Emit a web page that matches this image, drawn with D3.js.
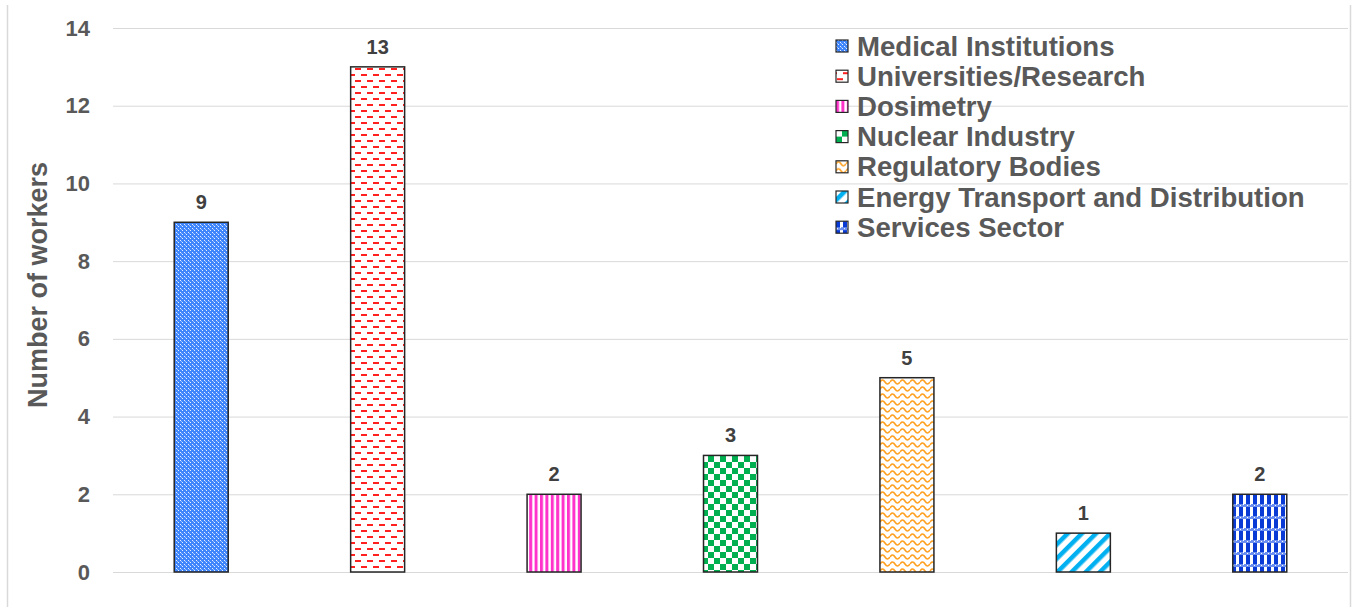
<!DOCTYPE html>
<html>
<head>
<meta charset="utf-8">
<script src="https://cdn.jsdelivr.net/npm/d3@7"></script>
<style>
  body { margin: 0; background: #fff; }
  svg { display: block; font-family: Arial, "Liberation Sans", sans-serif; }
</style>
</head>
<body>
<div id="chart"></div>
<script>
// categories and values
var categories = ["Medical Institutions", "Universities/Research", "Dosimetry", "Nuclear Industry",
                  "Regulatory Bodies", "Energy Transport and Distribution", "Services Sector"];
var workers = [9, 13, 2, 3, 5, 1, 2];
var yTicks = [0, 2, 4, 6, 8, 10, 12, 14];
var patternIds = ["pMed", "pUni", "pDos", "pNuc", "pReg", "pEne", "pSer"];

var width = 1356, height = 607,
    margin = {top: 28, right: 8, bottom: 35, left: 113};

var svg = d3.select("#chart").append("svg")
    .attr("width", width)
    .attr("height", height);

// ---- fill patterns ----
var defs = svg.append("defs");
function pat(id, w, h) {
  return defs.append("pattern").attr("id", id)
    .attr("patternUnits", "userSpaceOnUse")
    .attr("width", w).attr("height", h);
}
// medical: blue with light dots
var p = pat("pMed", 4, 4);
p.append("rect").attr("width", 4).attr("height", 4).attr("fill", "#3f85fb");
p.append("rect").attr("x", 0).attr("y", 0).attr("width", 1).attr("height", 1).attr("fill", "#e8f0ff");
p.append("rect").attr("x", 2).attr("y", 2).attr("width", 1).attr("height", 1).attr("fill", "#e8f0ff");
p.append("rect").attr("x", 1).attr("y", 1).attr("width", 1).attr("height", 1).attr("fill", "#9cc0ff");
// universities: red dashes
p = pat("pUni", 12, 12);
p.append("rect").attr("width", 12).attr("height", 12).attr("fill", "#fff");
p.append("rect").attr("x", 1).attr("y", 2).attr("width", 6).attr("height", 2).attr("fill", "#ff2020");
p.append("rect").attr("x", 7).attr("y", 8).attr("width", 6).attr("height", 2).attr("fill", "#ff2020");
p.append("rect").attr("x", -5).attr("y", 8).attr("width", 6).attr("height", 2).attr("fill", "#ff2020");
// dosimetry: vertical magenta stripes
p = pat("pDos", 5.4, 10);
p.append("rect").attr("width", 5.4).attr("height", 10).attr("fill", "#fff");
p.append("rect").attr("width", 3).attr("height", 10).attr("fill", "#ff33cc");
// nuclear: green checkerboard
p = pat("pNuc", 12, 12);
p.append("rect").attr("width", 12).attr("height", 12).attr("fill", "#fff");
p.append("rect").attr("width", 6).attr("height", 6).attr("fill", "#00b050");
p.append("rect").attr("x", 6).attr("y", 6).attr("width", 6).attr("height", 6).attr("fill", "#00b050");
// regulatory: orange waves
p = pat("pReg", 10, 7);
p.append("rect").attr("width", 10).attr("height", 7).attr("fill", "#fff");
p.append("path").attr("d", "M0,4 Q2.5,0 5,4 T10,4").attr("fill", "none")
  .attr("stroke", "#ffa020").attr("stroke-width", 1.6);
// energy: light blue diagonal stripes
p = pat("pEne", 10, 10).attr("patternTransform", "rotate(-45)");
p.append("rect").attr("width", 10).attr("height", 10).attr("fill", "#fff");
p.append("rect").attr("width", 10).attr("height", 4.5).attr("fill", "#00b0f0");
// services: blue plaid
p = pat("pSer", 7, 12);
p.append("rect").attr("width", 7).attr("height", 12).attr("fill", "#fff");
p.append("rect").attr("x", 0).attr("y", 0).attr("width", 4).attr("height", 12).attr("fill", "#0a3ad6");
p.append("rect").attr("x", 0).attr("y", 0).attr("width", 7).attr("height", 3).attr("fill", "#6a8ff0");
p.append("rect").attr("x", 1).attr("y", 1).attr("width", 1).attr("height", 1).attr("fill", "#fff");
p.append("rect").attr("x", 4).attr("y", 0).attr("width", 1).attr("height", 1).attr("fill", "#fff");

// ---- frame lines ----
svg.append("line").attr("x1", 7.5).attr("x2", 7.5).attr("y1", 5).attr("y2", height)
  .attr("stroke", "#d9d9d9").attr("stroke-width", 1.5);
svg.append("line").attr("x1", 1350.5).attr("x2", 1350.5).attr("y1", 5).attr("y2", height)
  .attr("stroke", "#d9d9d9").attr("stroke-width", 1.5);

// ---- scales ----
var x = d3.scaleBand().domain(categories).range([margin.left, width - margin.right]).padding(0);
var y = d3.scaleLinear().domain([0, 14]).range([height - margin.bottom, margin.top]);
var barW = x.bandwidth() * 0.306;

// gridlines
svg.append("g").selectAll("line").data(yTicks).enter().append("line")
  .attr("x1", margin.left).attr("x2", width - margin.right)
  .attr("y1", function(d) { return y(d) + 0.5; })
  .attr("y2", function(d) { return y(d) + 0.5; })
  .attr("stroke", "#d9d9d9").attr("stroke-width", 1);

// y axis (labels only)
var yAxis = svg.append("g")
  .attr("transform", "translate(" + (margin.left - 23) + ",0)")
  .call(d3.axisLeft(y).tickValues(yTicks).tickSize(0).tickPadding(0));
yAxis.select(".domain").remove();
yAxis.selectAll("text")
  .style("font-size", "22px").style("font-weight", "bold").attr("fill", "#595959")
  .attr("font-family", "Arial, 'Liberation Sans', sans-serif");

svg.append("text")
  .attr("transform", "translate(47," + 285 + ") rotate(-90)")
  .attr("text-anchor", "middle")
  .style("font-size", "27px").style("font-weight", "bold").attr("fill", "#595959")
  .text("Number of workers");

// bars
svg.append("g").selectAll("rect").data(workers).enter().append("rect")
  .attr("x", function(d, i) { return x(categories[i]) + (x.bandwidth() - barW) / 2; })
  .attr("y", function(d) { return y(d); })
  .attr("width", barW)
  .attr("height", function(d) { return y(0) - y(d); })
  .attr("fill", function(d, i) { return "url(#" + patternIds[i] + ")"; })
  .attr("stroke", "#262626").attr("stroke-width", 1.5);

// value labels
svg.append("g").selectAll("text").data(workers).enter().append("text")
  .attr("x", function(d, i) { return x(categories[i]) + x.bandwidth() / 2; })
  .attr("y", function(d) { return y(d) - 13; })
  .attr("text-anchor", "middle")
  .style("font-size", "20px").style("font-weight", "bold").attr("fill", "#404040")
  .text(function(d) { return d; });

// legend
var legend = svg.append("g").attr("transform", "translate(836,46)");
var item = legend.selectAll("g").data(categories).enter().append("g")
  .attr("transform", function(d, i) { return "translate(0," + (i * 30.2) + ")"; });
item.append("rect")
  .attr("x", 0).attr("y", -6).attr("width", 12).attr("height", 12)
  .attr("fill", function(d, i) { return "url(#" + patternIds[i] + ")"; })
  .attr("stroke", "#262626").attr("stroke-width", 1.2);
item.append("text")
  .attr("x", 21).attr("y", 9.5)
  .style("font-size", "27.6px").style("font-weight", "bold").attr("fill", "#595959")
  .text(function(d) { return d; });
</script>
</body>
</html>
